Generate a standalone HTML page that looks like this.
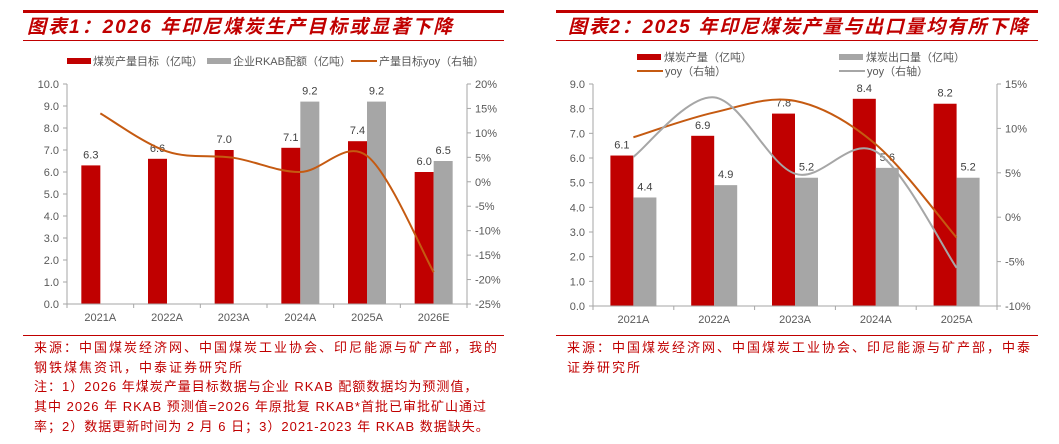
<!DOCTYPE html>
<html><head><meta charset="utf-8"><style>
body{margin:0;background:#fff;width:1059px;height:444px;overflow:hidden}
svg{display:block;font-family:"Liberation Sans","Noto Sans CJK SC",sans-serif}
</style></head><body>
<svg id="s" width="1059" height="444">
<g>
<rect x="23" y="10" width="481" height="3" fill="#c00000"/>
<text x="27" y="33" font-size="19" font-weight="bold" font-style="italic" fill="#c00000" letter-spacing="2">图表1：2026 年印尼煤炭生产目标或显著下降</text>
<rect x="23" y="40" width="481" height="1" fill="#c00000"/>
</g>
<g>
<rect x="556" y="10" width="482" height="3" fill="#c00000"/>
<text x="568" y="33" font-size="19" font-weight="bold" font-style="italic" fill="#c00000" letter-spacing="1.7">图表2：2025 年印尼煤炭产量与出口量均有所下降</text>
<rect x="556" y="40" width="482" height="1" fill="#c00000"/>
</g>
<g font-size="11" fill="#595959">
<rect x="67" y="58" width="24" height="6" fill="#c00000"/><text x="93" y="65">煤炭产量目标（亿吨）</text>
<rect x="207" y="58" width="24" height="6" fill="#a6a6a6"/><text x="233" y="65">企业RKAB配额（亿吨）</text>
<line x1="351" y1="61" x2="377" y2="61" stroke="#c55a11" stroke-width="2"/><text x="379" y="65">产量目标yoy（右轴）</text>
</g>
<g font-size="11" fill="#595959">
<rect x="637" y="54" width="24" height="6" fill="#c00000"/><text x="664" y="61">煤炭产量（亿吨）</text>
<rect x="839" y="54" width="24" height="6" fill="#a6a6a6"/><text x="866" y="61">煤炭出口量（亿吨）</text>
<line x1="637" y1="71" x2="663" y2="71" stroke="#c55a11" stroke-width="2"/><text x="665" y="75">yoy（右轴）</text>
<line x1="839" y1="71" x2="865" y2="71" stroke="#a6a6a6" stroke-width="2"/><text x="867" y="75">yoy（右轴）</text>
</g>
<g id="c1"></g>
<g id="c2"></g>
<g font-size="13" fill="#c00000" letter-spacing="2">
<rect x="23" y="335" width="481" height="1" fill="#c00000"/>
<text x="34" y="352">来源：中国煤炭经济网、中国煤炭工业协会、印尼能源与矿产部，我的</text>
<text x="34" y="372">钢铁煤焦资讯，中泰证券研究所</text>
<text x="34" y="391" letter-spacing="1">注：1）2026 年煤炭产量目标数据与企业 RKAB 配额数据均为预测值，</text>
<text x="34" y="411" letter-spacing="1">其中 2026 年 RKAB 预测值=2026 年原批复 RKAB*首批已审批矿山通过</text>
<text x="34" y="431" letter-spacing="1">率；2）数据更新时间为 2 月 6 日；3）2021-2023 年 RKAB 数据缺失。</text>
</g>
<g font-size="13" fill="#c00000" letter-spacing="2">
<rect x="556" y="335" width="482" height="1" fill="#c00000"/>
<text x="567" y="352">来源：中国煤炭经济网、中国煤炭工业协会、印尼能源与矿产部，中泰</text>
<text x="567" y="372">证券研究所</text>
</g>
</svg>
<script>
const c1Cats=["2021A","2022A","2023A","2024A","2025A","2026E"];
const c1Target=[6.3,6.6,7.0,7.1,7.4,6.0];
const c1Rkab=[null,null,null,9.2,9.2,6.5];
const c1Yoy=[14.0,6.2,4.9,2.0,5.3,-18.5];
const c1LeftTicks=[0,1,2,3,4,5,6,7,8,9,10];
const c1RightTicks=[-25,-20,-15,-10,-5,0,5,10,15,20];
const c2Cats=["2021A","2022A","2023A","2024A","2025A"];
const c2Prod=[6.1,6.9,7.8,8.4,8.2];
const c2Exp=[4.4,4.9,5.2,5.6,5.2];
const c2ProdYoy=[9.0,11.8,13.1,8.2,-2.3];
const c2ExpYoy=[6.8,13.5,4.9,7.4,-5.7];
const c2LeftTicks=[0,1,2,3,4,5,6,7,8,9];
const c2RightTicks=[-10,-5,0,5,10,15];
const NS="http://www.w3.org/2000/svg";
function mk(p,t,a){const e=document.createElementNS(NS,t);for(const k in a)e.setAttribute(k,a[k]);p.appendChild(e);return e;}
function smooth(pts){let d="M"+pts[0][0]+","+pts[0][1];for(let i=0;i<pts.length-1;i++){const p0=pts[i-1]||pts[i],p1=pts[i],p2=pts[i+1],p3=pts[i+2]||p2;const t=6;d+=" C"+(p1[0]+(p2[0]-p0[0])/t)+","+(p1[1]+(p2[1]-p0[1])/t)+" "+(p2[0]-(p3[0]-p1[0])/t)+","+(p2[1]-(p3[1]-p1[1])/t)+" "+p2[0]+","+p2[1];}return d;}
function chart(g,o){
 const {x0,x1,yTop,yBot,lMin,lMax,rMin,rMax,cats,bars,lines,lt,rt,bw}=o;
 const yL=v=>yBot-(v-lMin)/(lMax-lMin)*(yBot-yTop);
 const yR=v=>yBot-(v-rMin)/(rMax-rMin)*(yBot-yTop);
 const cw=(x1-x0)/cats.length;const xc=i=>x0+cw*(i+0.5);
 let e=mk(g,"line",{x1:x0,y1:yTop,x2:x0,y2:yBot,stroke:"#a6a6a6"});
 
 e=mk(g,"line",{x1:x1,y1:yTop,x2:x1,y2:yBot,stroke:"#a6a6a6"});
 
 lt.forEach(v=>{const y=yL(v);mk(g,"line",{x1:x0-4,y1:y,x2:x0,y2:y,stroke:"#a6a6a6"});
  e=mk(g,"text",{x:x0-8,y:y+4,"text-anchor":"end","font-size":"11",fill:"#595959"});e.textContent=v.toFixed(1);
  });
 rt.forEach(v=>{const y=yR(v);mk(g,"line",{x1:x1,y1:y,x2:x1+4,y2:y,stroke:"#a6a6a6"});
  e=mk(g,"text",{x:x1+8,y:y+4,"font-size":"11",fill:"#595959"});e.textContent=v+"%";
  });
 cats.forEach((c,i)=>{mk(g,"line",{x1:x0+cw*i,y1:yBot,x2:x0+cw*i,y2:yBot+4,stroke:"#a6a6a6"});
  e=mk(g,"text",{x:xc(i),y:yBot+17,"text-anchor":"middle","font-size":"11",fill:"#595959"});e.textContent=c;
  });
 mk(g,"line",{x1:x1,y1:yBot,x2:x1,y2:yBot+4,stroke:"#a6a6a6"});
 bars.forEach((b,k)=>{b.vals.forEach((v,i)=>{if(v==null)return;const x=xc(i)-bw+k*bw;const y=yL(v);
  e=mk(g,"rect",{x:x,y:y,width:bw,height:yBot-y,fill:b.color});
  
  e=mk(g,"text",{x:x+bw/2,y:y-7,"text-anchor":"middle","font-size":"11",fill:"#404040"});e.textContent=v.toFixed(1);
  });});
 mk(g,"line",{x1:x0,y1:yBot,x2:x1,y2:yBot,stroke:"#a6a6a6"});
 lines.forEach(l=>{const pts=l.vals.map((v,i)=>[xc(i),yR(v)]);
  e=mk(g,"path",{d:smooth(pts),fill:"none",stroke:l.color,"stroke-width":"2"});
  });
}
chart(document.getElementById("c1"),{x0:67,x1:467,yTop:84,yBot:304,lMin:0,lMax:10,rMin:-25,rMax:20,cats:c1Cats,bw:19,
 bars:[{name:"target",vals:c1Target,color:"#c00000"},{name:"rkab",vals:c1Rkab,color:"#a6a6a6"}],
 lines:[{name:"target-yoy",vals:c1Yoy,color:"#c55a11"}],lt:c1LeftTicks,rt:c1RightTicks});
chart(document.getElementById("c2"),{x0:593,x1:997,yTop:84,yBot:306,lMin:0,lMax:9,rMin:-10,rMax:15,cats:c2Cats,bw:23,
 bars:[{name:"production",vals:c2Prod,color:"#c00000"},{name:"export",vals:c2Exp,color:"#a6a6a6"}],
 lines:[{name:"production-yoy",vals:c2ProdYoy,color:"#c55a11"},{name:"export-yoy",vals:c2ExpYoy,color:"#a6a6a6"}],lt:c2LeftTicks,rt:c2RightTicks});
</script>
</body></html>
